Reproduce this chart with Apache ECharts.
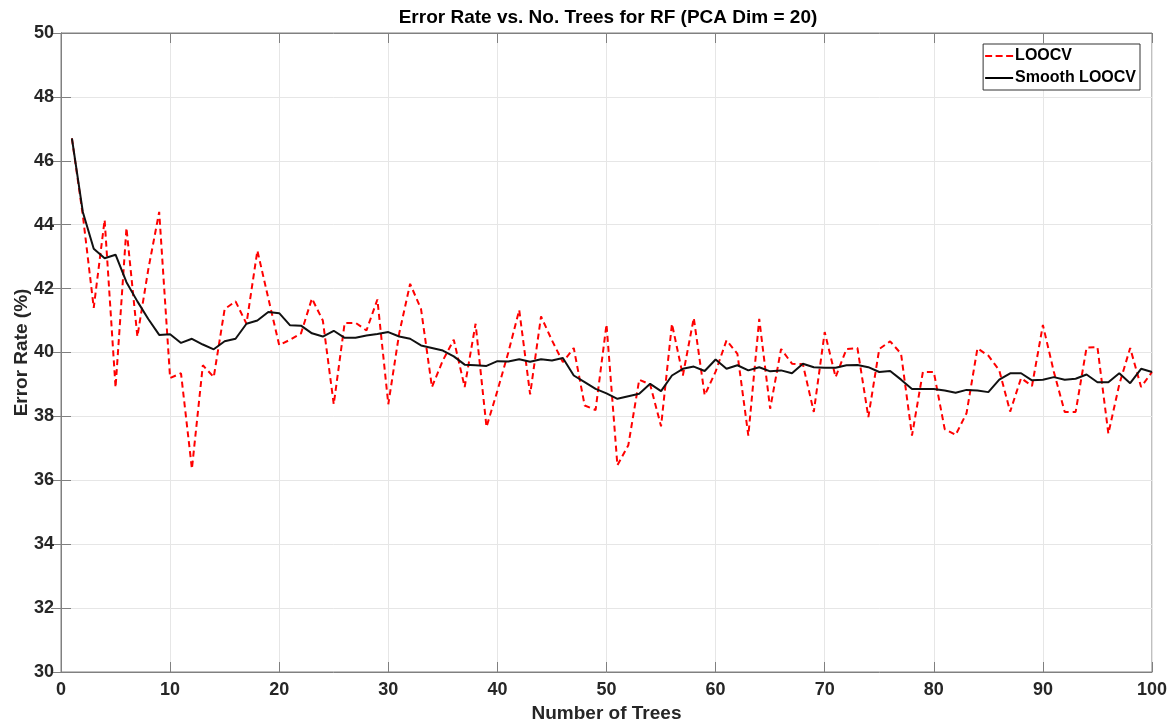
<!DOCTYPE html>
<html>
<head>
<meta charset="utf-8">
<title>Error Rate vs. No. Trees for RF</title>
<script src="https://cdn.jsdelivr.net/npm/echarts@6/dist/echarts.min.js"></script>
<style>
  html, body {
    margin: 0;
    padding: 0;
    background: #fff;
  }
  #chart {
    width: 1172px;
    height: 723px;
  }
</style>
</head>
<body>
<div id="chart"></div>
<script>
// number of trees 1..100
const trees = []
for (let i = 1; i <= 100; i++) trees.push(i)

const loocv = [
  46.7, 44.3, 41.4, 44.15, 38.9, 43.9, 40.5, 42.6, 44.4, 39.2,
  39.35, 36.36, 39.6, 39.23, 41.36, 41.6, 40.9, 43.19, 41.7, 40.23,
  40.4, 40.6, 41.69, 41.0, 38.38, 40.92, 40.93, 40.69, 41.66, 38.38,
  40.6, 42.15, 41.36, 38.92, 39.75, 40.4, 38.92, 40.9, 37.67, 38.8,
  40.0, 41.33, 38.69, 41.13, 40.38, 39.7, 40.14, 38.34, 38.2, 40.88,
  36.47, 37.1, 39.15, 39.0, 37.69, 40.9, 39.28, 41.08, 38.66, 39.4,
  40.38, 39.96, 37.4, 41.05, 38.24, 40.11, 39.65, 39.63, 38.14, 40.64,
  39.23, 40.11, 40.14, 37.98, 40.11, 40.35, 39.96, 37.4, 39.39, 39.39,
  37.6, 37.42, 38.1, 40.13, 39.9, 39.44, 38.15, 39.2, 38.95, 40.86,
  39.4, 38.14, 38.14, 40.15, 40.17, 37.46, 39.0, 40.14, 38.92, 39.39
]

const smooth = [
  46.7, 44.4, 43.25, 42.95, 43.06, 42.2, 41.6, 41.05, 40.55, 40.57,
  40.3, 40.43, 40.25, 40.1, 40.35, 40.43, 40.9, 41.0, 41.27, 41.23,
  40.85, 40.84, 40.6, 40.5, 40.68, 40.46, 40.46, 40.53, 40.58, 40.64,
  40.5, 40.43, 40.22, 40.14, 40.06, 39.88, 39.62, 39.6, 39.58, 39.73,
  39.72, 39.79, 39.71, 39.79, 39.75, 39.83, 39.28, 39.07, 38.86, 38.72,
  38.55, 38.63, 38.71, 39.02, 38.79, 39.28, 39.49, 39.56, 39.42, 39.78,
  39.49, 39.6, 39.44, 39.54, 39.41, 39.44, 39.35, 39.65, 39.54, 39.52,
  39.52, 39.6, 39.61, 39.54, 39.39, 39.42, 39.15, 38.86, 38.86, 38.86,
  38.81, 38.74, 38.83, 38.81, 38.76, 39.15, 39.35, 39.35, 39.13, 39.15,
  39.23, 39.15, 39.18, 39.31, 39.07, 39.07, 39.35, 39.04, 39.49, 39.39
]

const xTicks = [0, 10, 20, 30, 40, 50, 60, 70, 80, 90, 100]
const yTicks = [30, 32, 34, 36, 38, 40, 42, 44, 46, 48, 50]

const font = '"Liberation Sans", Arial, Helvetica, sans-serif'
const axisGray = '#808080'
const textColor = '#262626'

// legend glyphs: three dashes / one solid bar
const dashIcon = 'path://M0,0H7V2H0Z M10.5,0H17.5V2H10.5Z M21,0H28V2H21Z'
const solidIcon = 'path://M0,0H28V2H0Z'

function pairs (ys) {
  return trees.map((t, i) => [t, ys[i]])
}

const chart = echarts.init(document.getElementById('chart'), null, { renderer: 'canvas' })

const option = {
  backgroundColor: '#fff',
  animation: false,
  title: {
    text: 'Error Rate vs. No. Trees for RF (PCA Dim = 20)',
    left: 603,
    textAlign: 'center',
    top: 3,
    textStyle: {
      fontFamily: font,
      fontWeight: 'bold',
      fontSize: 19,
      color: '#000'
    }
  },
  legend: {
    orient: 'vertical',
    right: 32,
    top: 44,
    itemWidth: 28,
    itemHeight: 2,
    itemGap: 6,
    padding: [4, 4, 4, 2],
    borderColor: '#333',
    borderWidth: 1,
    backgroundColor: '#fff',
    textStyle: {
      fontFamily: font,
      fontWeight: 'bold',
      fontSize: 16,
      color: '#000',
      padding: [0, 0, 0, -3]
    },
    data: [
      { name: 'LOOCV', icon: dashIcon, itemStyle: { color: '#ff0000' } },
      { name: 'Smooth LOOCV', icon: solidIcon, itemStyle: { color: '#000' } }
    ]
  },
  grid: {
    left: 61,
    right: 20,
    top: 33,
    bottom: 51,
    containLabel: false,
    outerBoundsMode: 'none',
    show: true,
    borderColor: axisGray,
    borderWidth: 1
  },
  xAxis: [
    {
      type: 'value',
      min: 0,
      max: 100,
      interval: 10,
      name: 'Number of Trees',
      nameLocation: 'middle',
      nameGap: 32,
      nameMoveOverlap: false,
      nameTextStyle: { fontFamily: font, fontWeight: 'bold', fontSize: 19, color: textColor },
      axisLine: { show: true, lineStyle: { color: axisGray } },
      axisTick: { show: true, inside: true, length: 10, lineStyle: { color: axisGray } },
      axisLabel: {
        fontFamily: font, fontWeight: 'bold', fontSize: 18, color: textColor, margin: 9,
        formatter: v => xTicks.indexOf(v) >= 0 ? String(v) : ''
      },
      splitLine: { show: true, lineStyle: { color: '#e6e6e6' } }
    },
    {
      type: 'value',
      position: 'top',
      min: 0,
      max: 100,
      interval: 10,
      axisLine: { show: true, lineStyle: { color: axisGray } },
      axisTick: { show: true, inside: true, length: 10, lineStyle: { color: axisGray } },
      axisLabel: { show: false },
      splitLine: { show: false }
    }
  ],
  yAxis: [
    {
      type: 'value',
      min: 30,
      max: 50,
      interval: 2,
      name: 'Error Rate (%)',
      nameLocation: 'middle',
      nameGap: 30,
      nameMoveOverlap: false,
      nameTextStyle: { fontFamily: font, fontWeight: 'bold', fontSize: 19, color: textColor },
      axisLine: { show: true, lineStyle: { color: axisGray } },
      axisTick: { show: true, inside: true, length: 10, lineStyle: { color: axisGray } },
      axisLabel: {
        fontFamily: font, fontWeight: 'bold', fontSize: 18, color: textColor, margin: 7,
        formatter: v => yTicks.indexOf(v) >= 0 ? String(v) : ''
      },
      splitLine: { show: true, lineStyle: { color: '#e6e6e6' } }
    },
    {
      type: 'value',
      position: 'right',
      min: 30,
      max: 50,
      interval: 2,
      axisLine: { show: true, lineStyle: { color: axisGray } },
      axisTick: { show: true, inside: true, length: 10, lineStyle: { color: axisGray } },
      axisLabel: { show: false },
      splitLine: { show: false }
    }
  ],
  series: [
    {
      name: 'LOOCV',
      type: 'line',
      symbol: 'none',
      data: pairs(loocv),
      itemStyle: { color: '#ff0000' },
      lineStyle: { color: '#ff0000', width: 2, type: [6, 4] },
      z: 2
    },
    {
      name: 'Smooth LOOCV',
      type: 'line',
      symbol: 'none',
      data: pairs(smooth),
      itemStyle: { color: '#000' },
      lineStyle: { color: '#111', width: 2 },
      z: 3
    }
  ]
}

chart.setOption(option)
</script>
</body>
</html>
